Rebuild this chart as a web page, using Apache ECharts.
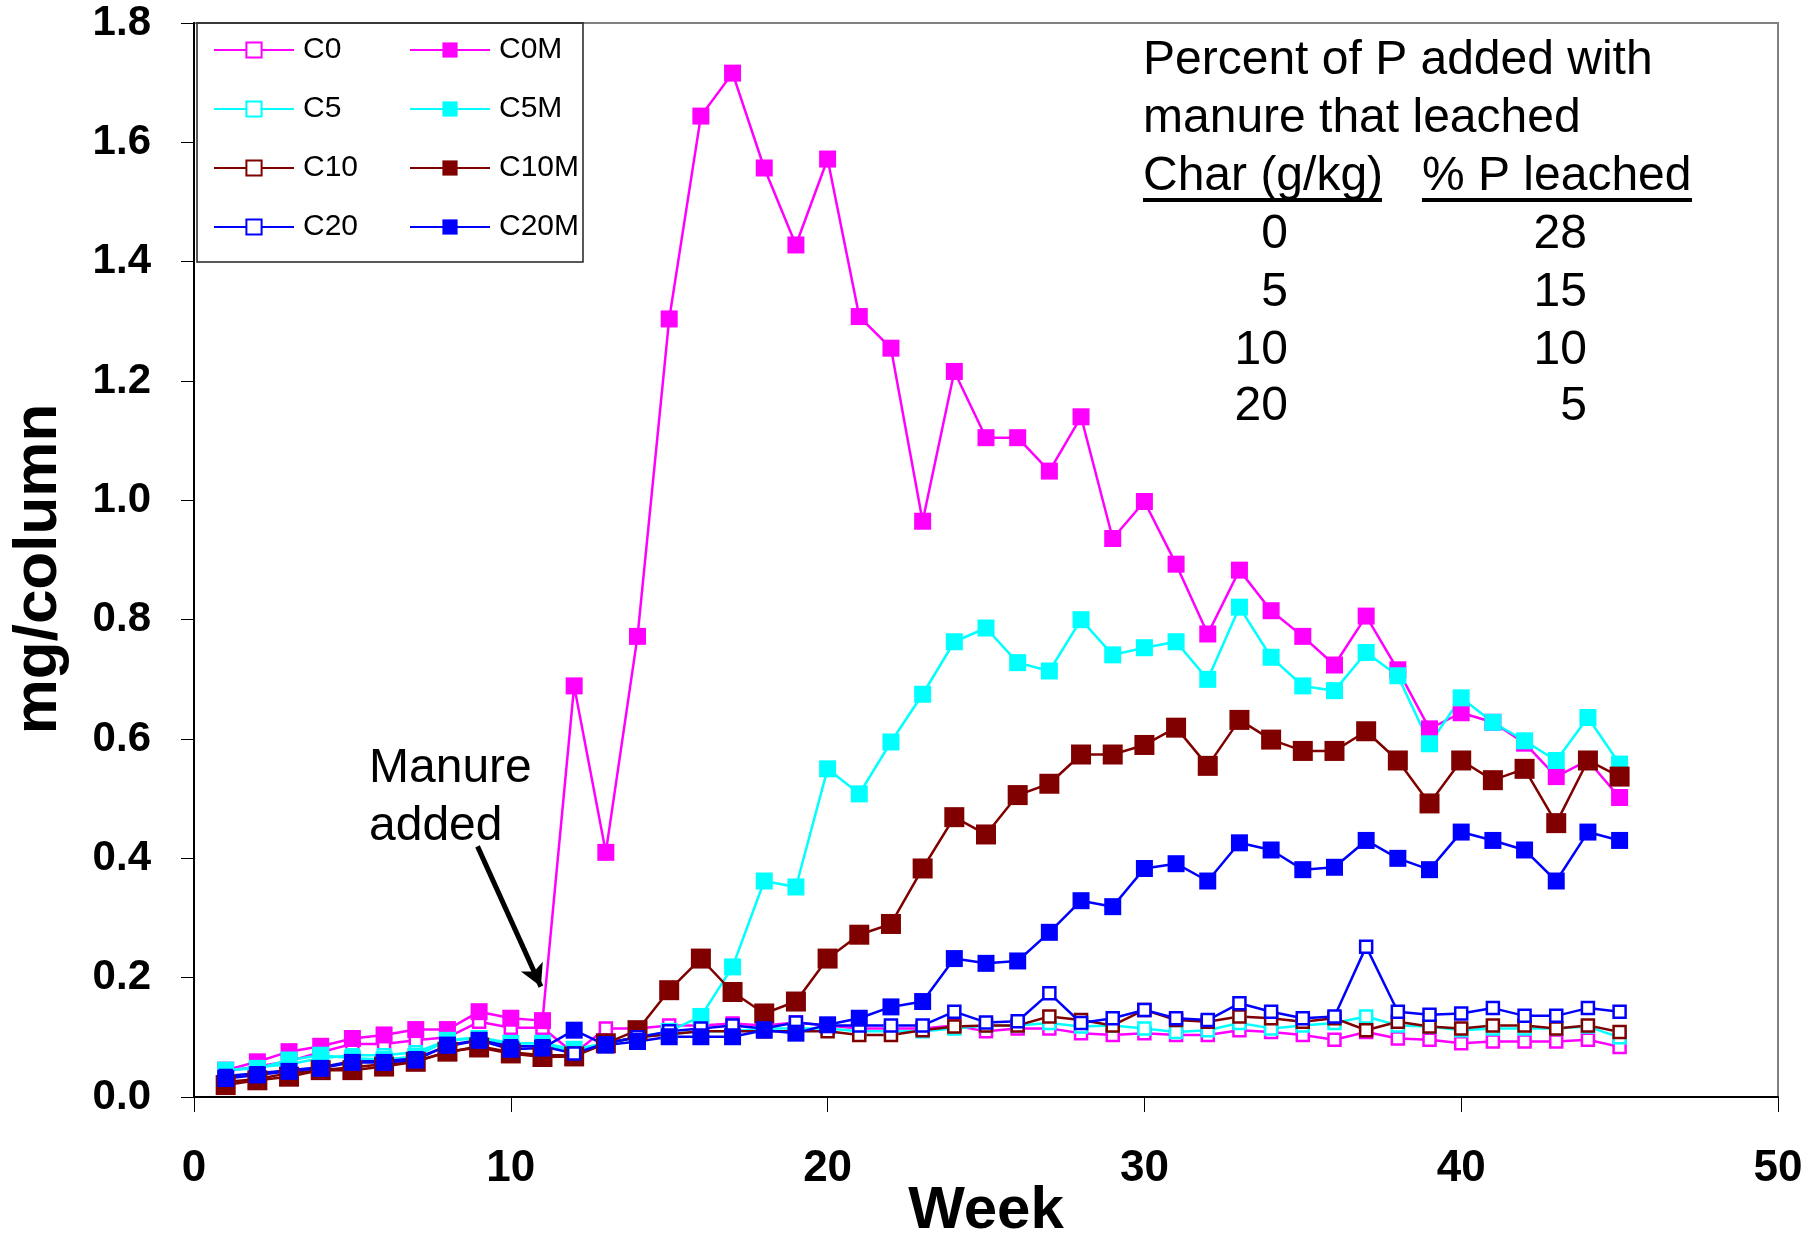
<!DOCTYPE html>
<html>
<head>
<meta charset="utf-8">
<script src="https://cdn.jsdelivr.net/npm/echarts@6/dist/echarts.min.js"></script>
<style>
html,body{margin:0;padding:0;background:#fff}
#main{width:1820px;height:1235px}
</style>
</head>
<body>
<div id="main"></div>
<script>
// weeks of leaching
var weeks = [1,2,3,4,5,6,7,8,9,10,11,12,13,14,15,16,17,18,19,20,21,22,23,24,25,26,27,28,29,30,31,32,33,34,35,36,37,38,39,40,41,42,43,44,45];

// columns without manure (open squares)
var c0 = [0.043,0.051,0.06,0.075,0.089,0.089,0.095,0.10,0.126,0.116,0.116,0.073,0.115,0.115,0.12,0.12,0.123,0.12,0.125,0.12,0.115,0.115,0.115,0.12,0.11,0.115,0.115,0.107,0.104,0.107,0.104,0.104,0.112,0.109,0.104,0.096,0.109,0.098,0.096,0.09,0.093,0.093,0.093,0.096,0.084];
var c5 = [0.045,0.05,0.055,0.065,0.07,0.07,0.075,0.095,0.10,0.09,0.09,0.075,0.09,0.10,0.105,0.11,0.11,0.115,0.115,0.115,0.11,0.11,0.11,0.115,0.12,0.12,0.124,0.118,0.12,0.115,0.109,0.112,0.124,0.115,0.12,0.124,0.135,0.12,0.118,0.112,0.115,0.115,0.115,0.118,0.10];
var c10 = [0.025,0.03,0.04,0.045,0.05,0.055,0.06,0.075,0.085,0.075,0.07,0.07,0.09,0.10,0.105,0.11,0.11,0.11,0.11,0.11,0.104,0.104,0.112,0.118,0.12,0.12,0.135,0.129,0.12,0.146,0.129,0.126,0.135,0.132,0.126,0.132,0.112,0.126,0.118,0.115,0.12,0.12,0.115,0.12,0.109];
var c20 = [0.035,0.04,0.045,0.05,0.06,0.06,0.065,0.085,0.095,0.085,0.085,0.073,0.09,0.10,0.11,0.115,0.12,0.115,0.125,0.12,0.12,0.12,0.12,0.143,0.125,0.127,0.174,0.124,0.132,0.146,0.132,0.129,0.157,0.143,0.132,0.135,0.252,0.143,0.138,0.14,0.149,0.136,0.136,0.149,0.143];

// columns with manure (filled squares)
var c0M = [0.045,0.059,0.076,0.085,0.098,0.104,0.113,0.113,0.143,0.132,0.128,0.689,0.41,0.772,1.304,1.644,1.716,1.557,1.428,1.572,1.308,1.255,0.965,1.216,1.105,1.105,1.049,1.14,0.936,0.998,0.893,0.776,0.883,0.815,0.772,0.724,0.806,0.716,0.617,0.644,0.628,0.593,0.537,0.564,0.502];
var c5M = [0.045,0.048,0.062,0.07,0.065,0.063,0.068,0.095,0.098,0.09,0.09,0.08,0.09,0.10,0.11,0.135,0.218,0.362,0.352,0.55,0.508,0.595,0.675,0.763,0.786,0.728,0.714,0.80,0.741,0.753,0.763,0.70,0.821,0.737,0.689,0.681,0.745,0.706,0.592,0.669,0.628,0.597,0.564,0.636,0.558];
var c10M = [0.02,0.028,0.034,0.045,0.045,0.051,0.059,0.076,0.083,0.073,0.067,0.068,0.09,0.112,0.179,0.232,0.176,0.14,0.16,0.232,0.272,0.29,0.383,0.469,0.44,0.506,0.525,0.574,0.574,0.59,0.619,0.555,0.632,0.599,0.58,0.58,0.613,0.564,0.492,0.564,0.531,0.55,0.459,0.564,0.537];
var c20M = [0.031,0.037,0.043,0.048,0.058,0.058,0.062,0.087,0.095,0.08,0.082,0.112,0.087,0.093,0.101,0.101,0.101,0.112,0.107,0.121,0.132,0.151,0.16,0.232,0.224,0.228,0.276,0.329,0.319,0.383,0.391,0.362,0.426,0.414,0.381,0.385,0.43,0.40,0.381,0.444,0.43,0.414,0.362,0.444,0.43];

// inset table
var tableTitle = ['Percent of P added with', 'manure that leached'];
var tableHead = ['Char (g/kg)', '% P leached'];
var charLevels = ['0', '5', '10', '20'];
var pLeached = ['28', '15', '10', '5'];

// arrow for "Manure added" (data coords)
var arrowFrom = [8.95, 0.42];
var arrowTo = [10.95, 0.185];

var FONT = 'Liberation Sans, Arial, sans-serif';

function pairs(vals) {
	var out = [];
	for (var i = 0; i < weeks.length; i++) {
		out.push([weeks[i], vals[i]]);
	}
	return out;
}

function openSeries(name, vals, color) {
	return {
		name: name, type: 'line', data: pairs(vals),
		symbol: 'rect', symbolSize: 12,
		lineStyle: {color: color, width: 2.5},
		itemStyle: {color: '#fff', borderColor: color, borderWidth: 2.5},
		emphasis: {disabled: true}
	};
}
function fullSeries(name, vals, color, size) {
	return {
		name: name, type: 'line', data: pairs(vals),
		symbol: 'rect', symbolSize: size,
		lineStyle: {color: color, width: 2.5},
		itemStyle: {color: color, borderWidth: 0},
		emphasis: {disabled: true}
	};
}

var series = [
	openSeries('C0', c0, '#FF00FF'),
	fullSeries('C0M', c0M, '#FF00FF', 17),
	openSeries('C5', c5, '#00FFFF'),
	fullSeries('C5M', c5M, '#00FFFF', 17),
	openSeries('C10', c10, '#800000'),
	fullSeries('C10M', c10M, '#800000', 20),
	openSeries('C20', c20, '#0000FF'),
	fullSeries('C20M', c20M, '#0000FF', 17)
];
// arrow is drawn on the axes
series[0].markLine = {
	silent: true, animation: false,
	symbol: ['none', 'arrow'], symbolSize: [18, 22],
	lineStyle: {color: '#000', width: 5, type: 'solid'},
	label: {show: false},
	data: [[{coord: arrowFrom}, {coord: arrowTo}]]
};

var legendText = {fontSize: 30, fontFamily: FONT, color: '#000', lineHeight: 30, padding: [0, 0, 0, 4]};

var txt = function (x, y, s, align) {
	var st = {text: s, x: 0, y: 0, fill: '#000', font: '48px ' + FONT, textAlign: align || 'left', textVerticalAlign: 'middle'};
	return {type: 'text', x: x, y: y, style: st, silent: true, z: 10};
};

var graphics = [
	{type: 'rect', shape: {x: 197, y: 23, width: 386, height: 239}, style: {fill: 'none', stroke: '#222', lineWidth: 1.5}, z: 5},
	txt(1143, 61, tableTitle[0]),
	txt(1143, 119, tableTitle[1]),
	txt(1143, 177, tableHead[0]),
	txt(1422, 177, tableHead[1]),
	{type: 'line', shape: {x1: 1143, y1: 200, x2: 1382, y2: 200}, style: {stroke: '#000', lineWidth: 4}, z: 10},
	{type: 'line', shape: {x1: 1422, y1: 200, x2: 1692, y2: 200}, style: {stroke: '#000', lineWidth: 4}, z: 10},
	txt(369, 769, 'Manure'),
	txt(369, 827, 'added')
];
var rowY = [235, 293, 351, 407];
for (var r = 0; r < charLevels.length; r++) {
	graphics.push(txt(1288, rowY[r], charLevels[r], 'right'));
	graphics.push(txt(1587, rowY[r], pLeached[r], 'right'));
}

var chart = echarts.init(document.getElementById('main'));
chart.setOption({
	animation: false,
	backgroundColor: '#fff',
	grid: {left: 194, top: 23, right: 42, bottom: 138, outerBoundsMode: 'none', containLabel: false,
		show: true, borderColor: '#808080', borderWidth: 2, backgroundColor: 'transparent'},
	legend: [
		{data: ['C0', 'C5', 'C10', 'C20'], orient: 'vertical', left: 213, top: 35, padding: 0,
			itemWidth: 80, itemHeight: 19, itemGap: 29, textStyle: legendText},
		{data: ['C0M', 'C5M', 'C10M', 'C20M'], orient: 'vertical', left: 409, top: 35, padding: 0,
			itemWidth: 80, itemHeight: 19, itemGap: 29, textStyle: legendText}
	],
	xAxis: {
		type: 'value', min: 0, max: 50, interval: 10,
		name: 'Week', nameLocation: 'middle', nameGap: 84, nameMoveOverlap: false,
		nameTextStyle: {fontSize: 60, fontWeight: 'bold', fontFamily: FONT, color: '#000'},
		axisLine: {show: true, lineStyle: {color: '#000', width: 2}},
		axisTick: {show: true, inside: false, length: 15, lineStyle: {color: '#000', width: 1}},
		axisLabel: {fontSize: 44, fontWeight: 'bold', fontFamily: FONT, color: '#000', margin: 50},
		splitLine: {show: false}
	},
	yAxis: {
		type: 'value', min: 0, max: 1.8, interval: 0.2,
		name: 'mg/column', nameLocation: 'middle', nameGap: 124, nameRotate: 90, nameMoveOverlap: false,
		nameTextStyle: {fontSize: 62, fontWeight: 'bold', fontFamily: FONT, color: '#000', padding: [0, 18, 0, 0]},
		axisLine: {show: true, lineStyle: {color: '#000', width: 2}},
		axisTick: {show: true, inside: false, length: 13, lineStyle: {color: '#000', width: 1}},
		axisLabel: {fontSize: 42, fontWeight: 'bold', fontFamily: FONT, color: '#000', margin: 43,
			formatter: function (v) { return v.toFixed(1); }},
		splitLine: {show: false}
	},
	graphic: graphics,
	series: series
});
</script>
</body>
</html>
